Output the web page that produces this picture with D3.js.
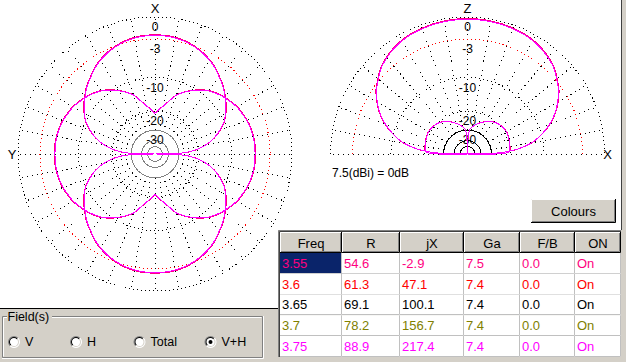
<!DOCTYPE html>
<html><head><meta charset="utf-8">
<script src="https://cdn.jsdelivr.net/npm/d3@7"></script>
<style>
html,body{margin:0;padding:0;background:#d4d0c8;overflow:hidden}
svg{display:block;font-family:"Liberation Sans",Arial,sans-serif}
</style></head><body>
<svg id="c" width="626" height="362"></svg>
<script>
// ---------- data ----------
const freqs = ["3.55","3.6","3.65","3.7","3.75"];
const resist = ["54.6","61.3","69.1","78.2","88.9"];
const react = ["-2.9","47.1","100.1","156.7","217.4"];
const gain = [7.5,7.4,7.4,7.4,7.4];
const fb = ["0.0","0.0","0.0","0.0","0.0"];
const onOff = ["On","On","On","On","On"];
const seriesColors = ["#ff0080","#ff0000","#000000","#808000","#ff00ff"];
const headers = ["Freq","R","jX","Ga","F/B","ON"];
const refGain = 7.5;
const dottedRings = [0,-3,-10,-20];
const labelDb = [0,-3,-10,-20,-30];
const labelText = ["0","-3","-10","-20","-30"];
const solidRings = [-30,-40,-50];
const fieldOptions = ["V","H","Total","V+H"];
const fieldSelected = "V+H";

// horizontal-plane pattern, azimuth from X axis (one quadrant, symmetric), dB
const azAngles = [0,5,10,15,20,25,30,35,40,45,50,55,60,65,70,75,80,85,88,90];
const azV = [-2.4,-2.4,-2.5,-2.7,-3.0,-3.4,-3.9,-4.5,-5.3,-6.0,-6.9,-7.8,-8.8,-10.0,-11.7,-13.8,-16.8,-21.5,-28.0,null];
const azH = [-20.7,-19.2,-17.6,-15.6,-13.3,-11.9,-10.7,-9.6,-8.6,-7.9,-7.3,-6.8,-6.3,-6.0,-5.7,-5.5,-5.35,-5.3,-5.3,-5.3];
// vertical-plane pattern, elevation from X horizon 0..90 (symmetric), dB
const elAngles = [0,2,5,10,15,20,25,30,35,40,45,50,55,60,65,70,75,80,85,88,90];
const elV = [null,-26,-18.0,-12.6,-9.8,-7.6,-5.9,-4.6,-3.5,-2.7,-1.9,-1.4,-1.0,-0.7,-0.5,-0.4,-0.3,-0.25,-0.2,-0.2,-0.2];
const elH = [null,-21.0,-20.0,-19.8,-19.6,-19.4,-19.2,-19.1,-19.2,-19.5,-19.8,-20.4,-21.2,-22.2,-23.4,-24.6,-25.8,-27.5,-29.5,null,null];

// ---------- setup ----------
const GRAY = "#d4d0c8";
const svg = d3.select("#c");
svg.append("rect").attr("width",626).attr("height",362).attr("fill",GRAY);
svg.append("rect").attr("x",0).attr("y",0).attr("width",621).attr("height",308).attr("fill","#fff");
svg.append("line").attr("x1",0).attr("x2",279).attr("y1",308.5).attr("y2",308.5).attr("stroke","#000");
svg.append("line").attr("x1",621.5).attr("x2",621.5).attr("y1",0).attr("y2",357).attr("stroke","#404040");

const R = 137;
// ARRL log scale: radius = R * 0.89^(|dB|/2)  -> power ratio ^ exponent
const rScale = d3.scalePow()
  .exponent((-Math.log(0.89)/2)/(Math.log(10)/10))
  .domain([0,1]).range([0,R]);
const rDb = db => rScale(Math.pow(10, db/10));
const rOf = db => (db === null || db < -30.5) ? 0 : rDb(db);
const aScale = d3.scaleLinear().domain([0,360]).range([0,2*Math.PI]);
const polar = (deg, r) => [r*Math.sin(aScale(deg)), -r*Math.cos(aScale(deg))];

function drawGrid(cx, cy, half, innerColor, topLabel, sideLabel, sideX) {
  const g = svg.append("g").attr("transform",`translate(${cx},${cy})`);
  const rIn = rDb(-30);
  const spokes = half ? d3.range(-90, 91, 10) : d3.range(0, 360, 10);
  g.selectAll(".sp").data(spokes).join("line")
    .attr("x1",d=>polar(d,rIn)[0]).attr("y1",d=>polar(d,rIn)[1])
    .attr("x2",d=>polar(d,R)[0]).attr("y2",d=>polar(d,R)[1])
    .attr("stroke","#000").attr("stroke-dasharray","1,4").attr("shape-rendering","crispEdges");
  dottedRings.forEach(db => {
    const r = rDb(db);
    const col = db === -3 ? "#ff0000" : "#000";
    if (half) {
      g.append("path").attr("d",`M${-r},0A${r},${r} 0 0 1 ${r},0`)
        .attr("fill","none").attr("stroke",col).attr("stroke-dasharray","1,3").attr("shape-rendering","crispEdges");
    } else {
      g.append("circle").attr("r",r).attr("fill","none").attr("stroke",col)
        .attr("stroke-dasharray","1,3").attr("shape-rendering","crispEdges");
    }
  });
  solidRings.forEach(db => {
    const r = rDb(db);
    if (half) {
      g.append("path").attr("d",`M${-r},0A${r},${r} 0 0 1 ${r},0`)
        .attr("fill","none").attr("stroke",innerColor).attr("shape-rendering","crispEdges");
    } else {
      g.append("circle").attr("r",r).attr("fill","none").attr("stroke",innerColor).attr("shape-rendering","crispEdges");
    }
  });
  labelDb.forEach((db,i) => {
    g.append("text").attr("x",0).attr("y",-rDb(db)+10).attr("text-anchor","middle")
      .attr("dominant-baseline","central").attr("font-size",12).text(labelText[i]);
  });
  g.append("text").attr("x",0).attr("y",-R-9).attr("text-anchor","middle")
    .attr("dominant-baseline","central").attr("font-size",13).text(topLabel);
  g.append("text").attr("x",sideX).attr("y",0).attr("text-anchor","middle")
    .attr("dominant-baseline","central").attr("font-size",13).text(sideLabel);
  return g;
}

const cxL = 155, cyL = 154, cxR = 467.5, cyR = 154;
const gL = drawGrid(cxL, cyL, false, "#808080", "X", "Y", -R-6);
const gR = drawGrid(cxR, cyR, true, "#000", "Z", "X", R+3);

svg.append("text").attr("x",332).attr("y",173).attr("dominant-baseline","central")
  .attr("font-size",12).text(`${refGain}(dBi) = 0dB`);

// full azimuth ring from quadrant data
function azPoints(vals, off) {
  const n = azAngles.length, pts = [];
  const v = i => vals[i] === null ? null : vals[i] + off;
  for (let i = 0; i < n; i++) pts.push([azAngles[i], v(i)]);
  for (let i = n-2; i >= 0; i--) pts.push([180 - azAngles[i], v(i)]);
  for (let i = 1; i < n; i++) pts.push([180 + azAngles[i], v(i)]);
  for (let i = n-2; i >= 1; i--) pts.push([360 - azAngles[i], v(i)]);
  return pts;
}
function elPoints(vals, off) {
  const n = elAngles.length, pts = [];
  const v = i => vals[i] === null ? null : vals[i] + off;
  for (let i = 0; i < n; i++) pts.push([90 - elAngles[i], v(i)]);
  for (let i = n-2; i >= 0; i--) pts.push([elAngles[i] - 90, v(i)]);
  return pts;
}
const closedLine = d3.lineRadial().angle(d=>aScale(d[0])).radius(d=>rOf(d[1]))
  .curve(d3.curveCatmullRomClosed.alpha(0.5));
const openLine = d3.lineRadial().angle(d=>aScale(d[0])).radius(d=>rOf(d[1]))
  .curve(d3.curveCatmullRom.alpha(0.5));

freqs.forEach((f, s) => {
  const off = gain[s] - refGain;
  [azV, azH].forEach(vals => {
    gL.append("path").attr("d", closedLine(azPoints(vals, off)))
      .attr("fill","none").attr("stroke",seriesColors[s]).attr("stroke-width",1)
      .attr("shape-rendering","crispEdges");
  });
  [elV, elH].forEach(vals => {
    gR.append("path").attr("d", openLine(elPoints(vals, off)))
      .attr("fill","none").attr("stroke",seriesColors[s]).attr("stroke-width",1)
      .attr("shape-rendering","crispEdges");
  });
});

// ---------- Colours button ----------
function bevel(x0,y0,x1,y1) {
  const g = svg.append("g");
  g.append("rect").attr("x",x0).attr("y",y0).attr("width",x1-x0).attr("height",y1-y0).attr("fill",GRAY);
  g.append("path").attr("d",`M${x0+0.5},${y1-1}V${y0+0.5}H${x1-1}`).attr("fill","none").attr("stroke","#fff");
  g.append("path").attr("d",`M${x0},${y1-0.5}H${x1-0.5}V${y0}`).attr("fill","none").attr("stroke","#000");
  g.append("path").attr("d",`M${x0+1},${y1-1.5}H${x1-1.5}V${y0+1}`).attr("fill","none").attr("stroke","#808080");
  return g;
}
bevel(531,199,616,223);
svg.append("text").attr("x",573.5).attr("y",211).attr("text-anchor","middle")
  .attr("dominant-baseline","central").attr("font-size",13).text("Colours");

// ---------- table ----------
const cols = [280,342,400,464,520,575,621];
svg.append("rect").attr("x",278).attr("y",230).attr("width",344).attr("height",132).attr("fill",GRAY);
svg.append("path").attr("d","M278.5,357V230.5H621").attr("fill","none").attr("stroke","#808080");
svg.append("path").attr("d","M279.5,357V231.5H621").attr("fill","none").attr("stroke","#404040");
const yRow = d3.scaleLinear().domain([0,5]).range([253,356.75]);
headers.forEach((h,j) => {
  bevel(cols[j], 232, cols[j+1], 253);
  svg.append("text").attr("x",(cols[j]+cols[j+1])/2).attr("y",243).attr("text-anchor","middle")
    .attr("dominant-baseline","central").attr("font-size",13).text(h);
});
const rows = freqs.map((f,i)=>[f, resist[i], react[i], gain[i].toFixed(1), fb[i], onOff[i]]);
rows.forEach((row,i) => {
  row.forEach((val,j) => {
    const x0 = cols[j], x1 = cols[j+1], y0 = yRow(i), y1 = yRow(i+1);
    svg.append("rect").attr("x",x0).attr("y",y0).attr("width",x1-x0).attr("height",y1-y0)
      .attr("fill", (i===0 && j===0) ? "#0a246a" : "#fff");
    svg.append("path").attr("d",`M${x0},${Math.round(y1)-0.5}H${x1-0.5}V${y0}`)
      .attr("fill","none").attr("stroke","#c0c0c0");
    svg.append("text").attr("x",x0+2).attr("y",(y0+y1)/2).attr("dominant-baseline","central")
      .attr("font-size",13).attr("fill",seriesColors[i]).text(val);
  });
});

// ---------- Field(s) group ----------
const gb = svg.append("g");
gb.append("path").attr("d","M7,316.5H2.5V357.5H262.5V316.5H52").attr("fill","none").attr("stroke","#808080");
gb.append("path").attr("d","M7,317.5H3.5V356.5M2,358.5H263.5V316M261.5,317.5H52").attr("fill","none").attr("stroke","#fff");
gb.append("text").attr("x",7.5).attr("y",317).attr("dominant-baseline","central").attr("font-size",12.5).text("Field(s)");
const radioXs = {"V":14,"H":76,"Total":139.5,"V+H":210.5};
const arc = d3.arc();
fieldOptions.forEach(o => {
  const x = radioXs[o], y = 342;
  const g = gb.append("g").attr("transform",`translate(${x},${y})`);
  g.append("circle").attr("r",5.5).attr("fill","#fff");
  g.append("path").attr("d",arc({innerRadius:5,outerRadius:6,startAngle:-3*Math.PI/4,endAngle:Math.PI/4})).attr("fill","#808080");
  g.append("path").attr("d",arc({innerRadius:5,outerRadius:6,startAngle:Math.PI/4,endAngle:5*Math.PI/4})).attr("fill","#fff");
  g.append("path").attr("d",arc({innerRadius:4,outerRadius:5,startAngle:-3*Math.PI/4,endAngle:Math.PI/4})).attr("fill","#000");
  g.append("path").attr("d",arc({innerRadius:4,outerRadius:5,startAngle:Math.PI/4,endAngle:5*Math.PI/4})).attr("fill",GRAY);
  if (o === fieldSelected) g.append("circle").attr("r",2).attr("fill","#000");
  gb.append("text").attr("x",x+11).attr("y",y).attr("dominant-baseline","central").attr("font-size",12.5).text(o);
});
</script></body></html>
